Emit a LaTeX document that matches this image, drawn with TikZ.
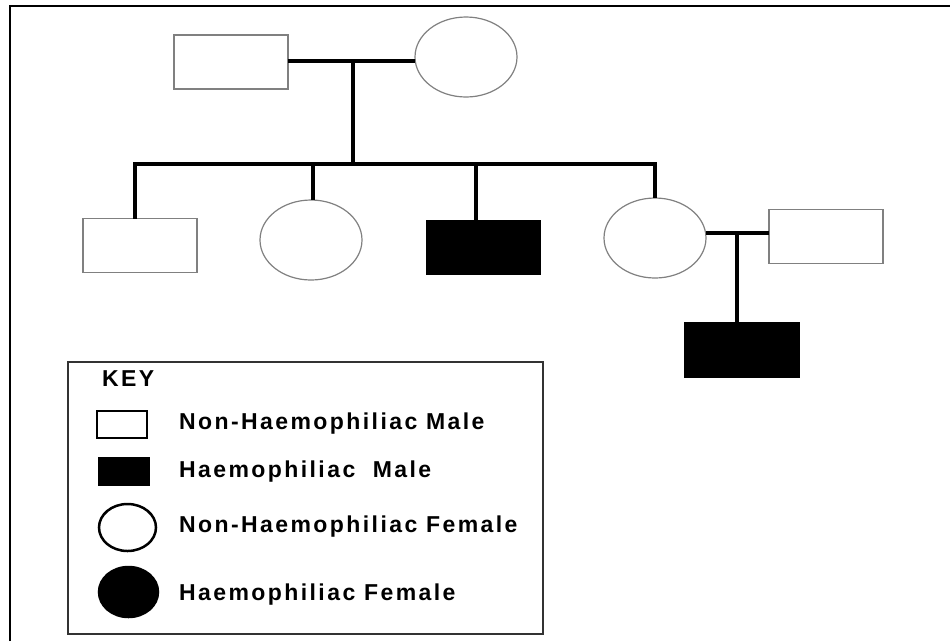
\documentclass[tikz,border=0pt]{standalone}
\usepackage{fontspec}
\newfontfamily\keyfont[LetterSpace=10.5]{Liberation Sans Bold}
\usetikzlibrary{shapes.geometric, positioning}

\begin{document}
\begin{tikzpicture}[
  x=1pt, y=-1pt,
  male/.style={rectangle, draw=gray, line width=1.2pt, inner sep=0pt, outer sep=0pt,
               minimum width=114pt, minimum height=54pt},
  female/.style={ellipse, draw=gray, line width=1.2pt, inner sep=0pt, outer sep=0pt,
                 minimum width=102pt, minimum height=80pt},
  affected/.style={fill=black, draw=black},
  link/.style={line width=3.5pt},
  keysym/.style={draw=black, line width=2.5pt, inner sep=0pt, outer sep=0pt},
  keytext/.style={anchor=west, inner sep=0pt, font=\keyfont\fontsize{23}{26}\selectfont},
]
\useasboundingbox (0,0) rectangle (950,641);

% ---- frame ----
\draw[line width=2.5pt] (10,641) -- (10,6) -- (950,6);

% ---- first generation ----
\node[male]   (father) at (231,62)  {};
\node[female] (mother) at (466,57)  {};

% ---- second generation ----
\node[male]             (son1)      at (140,245.5) {};
\node[female]           (daughter1) at (311,240)   {};
\node[male, affected]   (son2)      at (483.5,247.5) {};
\node[female]           (daughter2) at (655,238)   {};
\node[male]             (husband)   at (826,236.5) {};

% ---- third generation ----
\node[male, affected]   (grandson)  at (742,350)   {};

% ---- relations ----
\coordinate (m1) at (353,61);
\coordinate (sibL) at (135,164);
\coordinate (sibR) at (655,164);
\draw[link] (m1 -| father.east) -- (m1 -| mother.west);
\draw[link] (m1) -- (m1 |- sibL);
\draw[link] ([xshift=-1.75pt]sibL) -- ([xshift=1.75pt]sibR);
\draw[link] (sibL) -- (sibL |- son1.north);
\draw[link] (313,164) -- (daughter1.north -| 313,0);
\draw[link] (476,164) -- (son2.north -| 476,0);
\draw[link] (sibR) -- (daughter2.north);

\coordinate (m2) at (737,233);
\draw[link] (m2 -| daughter2.east) -- (m2 -| husband.west);
\draw[link] (m2) -- (m2 |- grandson.north);

% ---- key ----
\node[draw=black!80, line width=2pt, minimum width=475pt, minimum height=272pt,
      inner sep=0pt] (key) at (305.5,498) {};
\node[keytext] (keytitle) at (102,379) {KEY};

\node[keysym, rectangle, minimum width=50pt, minimum height=27pt] (symA) at (122,424.5) {};
\node[keysym, rectangle, fill=black, minimum width=50pt, minimum height=27pt] (symB) at (124,471.5) {};
\node[keysym, ellipse, minimum width=57pt, minimum height=47pt] (symC) at (127.5,527.5) {};
\node[keysym, ellipse, fill=black, minimum width=59pt, minimum height=50pt] (symD) at (128.5,592) {};

\node[keytext] (txtA) at (179,424) {Non-Haemophiliac Male};
\node[keytext] (txtB) at (179,472) {Haemophiliac~ Male};
\node[keytext] (txtC) at (179,527) {Non-Haemophiliac Female};
\node[keytext] (txtD) at (179,595) {Haemophiliac Female};

\end{tikzpicture}
\end{document}
